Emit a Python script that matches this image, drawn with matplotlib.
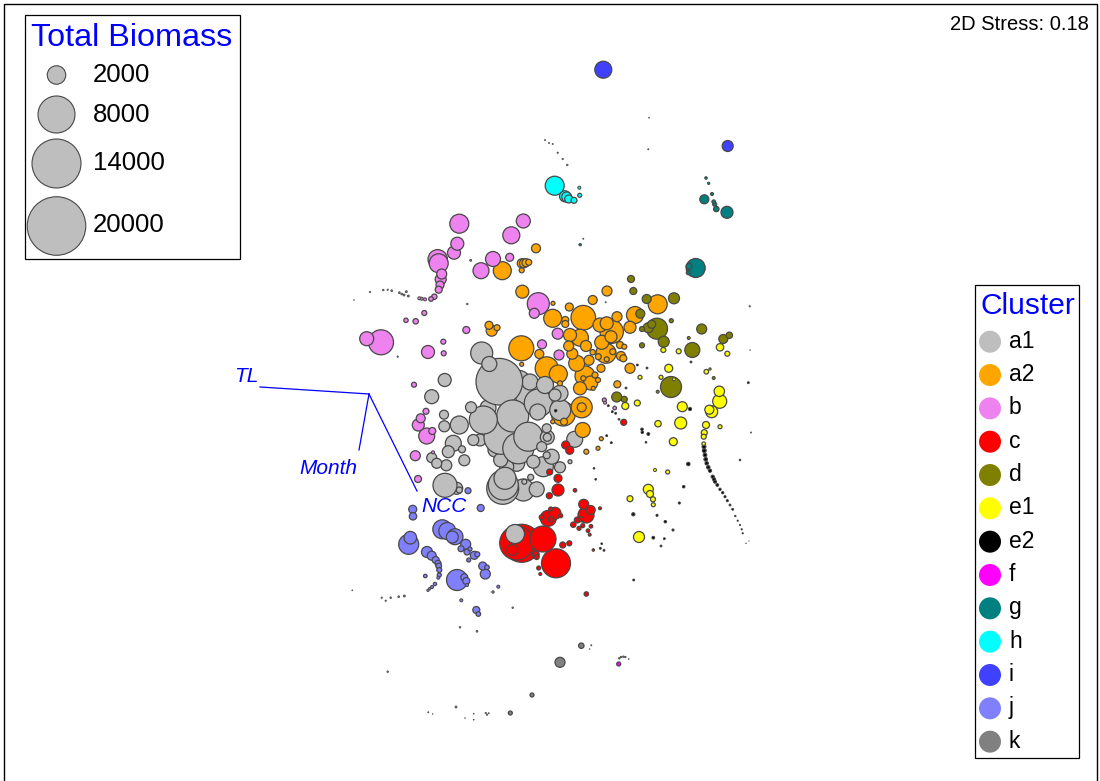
import matplotlib
matplotlib.use("Agg")
import matplotlib.pyplot as plt
from matplotlib.patches import Rectangle
import numpy as np

plt.rcParams['font.family'] = ['Liberation Sans', 'DejaVu Sans']

# points: (x, y, bubble radius), all in image pixels
a1 = [(499.3,381.7,23.3),(481.7,353,11),(489.3,364,7.5),(444.7,380,6.5),(431.7,396.7,7),(545,385,8.5),(555,395,6),
      (560,393.3,8),(538.3,403,14),(537.7,412,8),(560.3,410,10.5),(483.3,420,14),(471,407.3,5.5),(459.3,425,9),
      (444,414.7,4.5),(444.3,426.3,5.5),(473.3,440,5.5),(512.7,416,16),(501,437.3,17),(528.3,436.7,14.5),
      (518.3,448.3,15.5),(546.7,428.3,4.5),(547.3,437.3,7),(547.3,437.3,4),(541.7,446.7,5),(574.7,439.3,8),
      (453.3,443.3,8),(448.3,451.7,6),(462,449.3,3.5),(431.7,457.7,5),(436.7,463.3,5),(446.3,465.3,5.5),
      (464.3,460.3,5.5),(445,485.3,12),(502.7,488.3,16),(503.3,485,15),(505,478.3,11),(530.7,477.3,3),
      (524.3,481.7,2.5),(533.3,461.7,6.5),(543.3,466.7,10),(551.7,456.7,7.5),(560,467.3,5.5),(546.7,455.3,3.5),
      (570,461.7,2),(515,534,9.5)]
# grey bubbles that sit behind the big ones in the centre
a1_back = [(518.3,383.3,13),(525,395,10),(523.3,490,11),(530,382,8),(488,408,8),(516.7,463.3,8),(510,456.7,8),
           (536.7,489.3,7.5),(495,450,7),(506.7,466.7,7),(500.7,460,7),(480,440,6),(456.7,488.3,6),(459.3,490,3)]
a2 = [(522.3,291.7,6.5),(502.3,270.7,9),(536,248.3,4.5),(521.7,263.3,4.5),(524,263.3,4.5),(526,262.7,4),
      (528.7,262.3,3),(521.7,270.3,2.5),(489,325.3,4),(491.7,330.7,5.5),(497,327.7,3),(553,303.3,2),
      (552.7,318.3,9),(565.3,320,3.5),(565.3,324,3.5),(521.3,348.3,12.5),(521.7,364.3,2),(539.3,354,4.5),
      (546.7,368.3,11.5),(558.3,374,9),(560,383.3,2.5),(607,291,5),(592.7,300,4.5),(569.3,307,4),
      (583.3,317.7,12.3),(617,316.7,5),(635,315,8.5),(657.7,304.3,9.5),(630,327.3,6),(611.7,331.7,11.7),
      (606.7,323.3,6.5),(611,336.7,6),(600,325,7),(601.7,342.3,7),(570,335,6.5),(580,337.7,8.5),
      (568.7,346,5),(586,346,5.5),(572.3,353.7,5.5),(606,353.3,10),(606.7,359.3,2.5),(598.3,356.7,3),(592.7,352.3,2.7),
      (589,360.3,5),(576.7,363.3,8),(585,376,10),(590.7,383,7),(580,388.3,6.5),(595,375,3),(598,380,2.5),
      (593.3,388.3,2),(583.3,378.3,2.5),(601,368.3,4),(612.7,351.7,3),(620,345,3.5),(624.3,346.7,2.5),
      (621,356,4.5),(623.3,358.3,3.5),(630,368.3,5),(617.3,384.3,3.5),(581.7,407.3,10.5),(581.7,407.3,4.5),
      (582.7,430,7.5),(563.3,414,12),(564,421.7,3.5),(552.7,421.7,2),(586.3,451.7,2.5),(598,448.3,2),(601.3,438.7,2)]
b = [(459.3,223.7,9.5),(523.3,221,7),(511.3,235.3,8.5),(454,252.7,6.5),(457.3,243.7,6.5),(437.7,259.3,9.7),
     (438.7,263.3,9.5),(441.7,274,5),(440.7,279.3,5.5),(440,285,4),(438.7,289.7,3.5),(434.3,296.7,2.7),
     (431,299,2.3),(425,299.3,1.5),(421.7,298.7,1.5),(419.3,298.3,1.5),(481,270.7,8),(493,259,7.5),
     (509.7,257.3,4),(538.3,303.7,11),(534.3,313.3,5),(557.7,333.7,5.5),(542,344.3,4.5),(559,355,5),
     (381,342.3,12.5),(366.7,338.7,7),(428,352,6.5),(443.3,341.7,2.5),(443.7,353.3,2.5),(466.3,330,3.5),
     (424.3,313,2.5),(415.7,321.3,2.7),(406,320.3,2.2),(414,384.7,2.5),(420.7,418.3,4.5),(418.3,425,6),
     (426,411.3,3),(426.7,436,8),(432.3,431,3.5),(415.3,455.7,5),(418,479,3.5),(433,452.3,1.5),
     (604.3,400,2),(605,402.7,1.5),(614.7,408,1.8)]
c = [(521.7,543.3,19),(516.7,543,17),(512.3,550,5.5),(543,539,13),(556,563.3,14.5),(562.7,545,3),(569.3,543.3,2.5),
     (535.7,554.3,3.5),(536.7,557,2.5),(538.7,568,2),(540.3,574,1.5),(586.3,594,2.2),(548.3,518.3,8),(555,513.3,6),
     (541.7,517.3,2.5),(550.7,519.3,2.5),(560.7,515.7,2),(550.7,509,2),(583.7,504.3,5),(586,515,8),(590.7,510,4.5),
     (577.3,520,3),(581,519.3,2.5),(573.3,524.7,2.7),(582.7,525.7,2),(579,528.3,2),(591,526.3,1.8),(588,530.7,1.8),
     (589.7,534.7,1.5),(600,508.3,1.5),(558,490,6),(558,478.3,4),(549.7,472,3),(549.3,495.7,3),(565.7,445,4),
     (569.7,450.3,4),(575,490.3,1.8),(623.7,422.3,3),(593.3,550,1.3)]
d = [(631,279,3.5),(633.3,291,3.5),(646.7,299,4.5),(674,298.3,5.5),(640.3,313.7,4.5),(657,328.7,10.5),
     (651.7,324.3,4),(648.3,327.7,5),(642,329,2.5),(663.7,341.7,5.5),(671.3,320.7,2),(701.7,329,5),(642,345.3,2.5),
     (692.3,350,7.5),(688.7,338,1.5),(723.3,339,4.5),(729.3,335.3,3.2),(671,387,10.5),(616.7,397,5),(624.3,399.3,3),
     (657.7,391.7,1.5),(713.7,378,1.5),(710,369,1.2)]
e1 = [(663.3,350,2.5),(678.7,351.3,2.5),(720,347.3,3.7),(727.3,353.7,2.5),(668.7,368.3,4),(661,377.3,2),(640,377.3,2),
      (706.3,371.7,2.3),(674,379.3,1.5),(625.3,406,3.5),(637.3,403,3),(682.3,406.7,5),(680.7,423,6),(658,423.7,3.2),
      (673.3,441.7,4),(719.3,391.3,5.2),(719.7,401.3,7),(711.7,411.7,6),(709.3,409.7,4.5),(720,426.7,2),(706,425,3.5),
      (704.3,432.7,3),(703.7,436.7,2.5),(703.7,443.7,1.8),(648.3,489.3,5),(650,494,3.5),(653,499.3,2.5),
      (653.3,504.7,2),(630,498.7,3),(639,537,5.5),(655,470,1.5),(667.7,472,2)]
e2 = [(704,446.7,1.9),(704.3,450.7,1.9),(705,455,1.8),(705.7,459.3,1.8),(706.7,463.3,1.7),(708.3,467.3,1.7),(710,470.7,1.6),
      (712.7,476.7,1.6),(714,479.3,1.6),(715,481.7,1.5),(717.3,485,1.4),(720,489.3,1.2),(722.7,492.7,1.2),(725,496.7,1.1),
      (727.3,500.7,1.1),(730,505,1),(732.7,509.3,1),(735.3,516,0.8),(737.7,520.7,0.7),(740,525,0.7),(741.7,529.3,0.7),
      (742.7,533.3,0.7),(688.3,464,1.7),(683.7,486.7,1.3),(679.3,503,1.1),(633.3,514.3,1.6),
      (657,515.3,1.1),(665.3,521.7,1.3),(673,530,1.1),(653.3,537.7,1.4),(664.3,538.7,1),(661,546,1),(740,460,0.9),
      (642,429.3,1.3),(642.3,432.3,1.3),(648.3,434,1.4),(646,442.3,0.9),(611.3,442.7,1),(606.7,435.7,1),(690,409,1.6),
      (619,419.3,0.9),(608.3,405.7,1),(612.3,411.7,1),(615.7,413.3,1),(555.7,410.7,1.3),(594,468.3,0.9),(595.7,479.3,0.9),
      (637.3,365,1),(647,368,1),(626,388,1),(691,362,1),(748.3,382.7,1),(601.7,543.7,0.9),(604,550.3,1),(600.3,548.3,1),
      (633.7,580,1)]
f = [(618.7,664,2)]
g = [(695.7,268,9.5),(689,266.3,3),(688.3,272.7,2),(704.3,199.3,4.5),(727,212.3,6),(716.3,209,2.7),(714.7,204.3,2),
     (713.7,201.7,1.8),(712,194,1.5),(708.7,183.3,1.2),(706,178,1.3),(580.3,244.7,1.2)]
h = [(554.7,185.7,9.5),(565,196.3,5.5),(566.7,197,5),(568.7,199,4),(574,200.3,3),(579.3,187.7,1.5),(579.7,195.3,2)]
i = [(603.3,69.7,8.5),(727.7,146,5.5)]
j = [(408.7,544.3,10),(410.3,537.7,6.3),(412.7,509.3,4),(413,516.3,3.7),(480.7,508,3.5),(442.3,529.3,9.5),(447.3,531,8.5),
     (455,536.7,8),(452.3,537,6),(465.7,544.3,5),(461,548.7,3),(467,552,3),(470,549,2),(474.3,555.3,4),(477.3,554.3,2.5),
     (468.7,560,2),(482.7,566,4),(487,567.3,2.3),(485.3,574,5),(457,580,10.5),(464.3,577.3,3.5),(466.3,581,3.5),(467,585,1.5),
     (427,552,5.5),(431.7,555.7,4.5),(435.7,560,3.5),(438,563.3,3),(438.7,566,2.8),(439.3,570,2.5),(439.3,575,2),
     (438.3,577.7,1.5),(425.3,576,1.8),(435,584,1.7),(432,587,1.5),(429.7,588.7,1.2),(428,590.3,1.2),(498.3,586.7,1.5),
     (461.3,600.3,1.5),(476.3,610,3.5),(478.3,614,2.3),(468,490.7,3)]
k = [(560,662.3,5),(581.3,645.7,2.7),(532,695,2),(510.3,713,2),(456,707,1),(387.7,671.7,0.8),(352.3,590.3,0.5),(381.7,597.7,0.7),
     (385.7,600.7,0.7),(390.7,597.7,0.8),(398.7,596.7,0.9),(404.3,596,1),(460,627.3,0.8),(477,631.3,0.9),(512.7,607.7,0.8),
     (493,592,1.2),(428.3,712.3,0.6),(432.7,714,0.4),(465,718,0.4),(473.7,713.7,0.5),(473.7,719.7,0.5),(485.7,713,0.7),(487,714.7,0.7),
     (488.7,713.3,0.6),(591.3,645.3,0.6),(589.7,649,0.4),(619.3,658.3,0.8),(621,657,0.8),(623.3,656.7,0.8),(625.3,657,0.8),(628.7,659,0.5),
     (370,292,0.7),(383.3,290,0.8),(387.7,289.7,0.7),(391.7,290.7,0.9),(399.3,292.7,0.9),(401.7,294,0.9),(404,295,1),(406.3,291.7,1),
     (408.3,296,1),(354,300,0.4),(467.3,304,0.8),(470.7,260.3,1),(397.7,356.7,0.7),(579.3,244.7,0.6),(583.3,238.7,0.6),(605.7,302.3,0.6),
     (749.7,306.3,0.7),(750,350,0.4),(751,432.5,0.6),(746,543.3,0.4),(749,541,0.3),(545,140,0.6),(549,143,0.6),(552.7,144,0.6),
     (557.7,152.7,0.7),(562.7,159,0.7),(567.3,165,0.8),(649,117.7,0.5),(648.3,149.3,0.6)]

cluster_names = ["a1", "a2", "b", "c", "d", "e1", "e2", "f", "g", "h", "i", "j", "k"]
cluster_points = [a1, a2, b, c, d, e1, e2, f, g, h, i, j, k]
cluster_colors = ["#BEBEBE", "#FFA500", "#EE82EE", "#FF0000", "#808000", "#FFFF00", "#000000",
                  "#FF00FF", "#008080", "#00FFFF", "#4040FF", "#8080FF", "#808080"]

biomass_values = [2000, 8000, 14000, 20000]
biomass_y = [75, 114.5, 163.5, 226]
biomass_label_y = [75.5, 114.5, 163.5, 225.5]

vectors = {"TL": (260, 387), "Month": (359, 450), "NCC": (417, 491)}
vector_origin = (369, 394)
vector_labels = {"TL": (246, 376.5), "Month": (328, 469), "NCC": (444, 506.5)}

EDGE = "#484848"
PX = 72 / 100  # one pixel in points


def area(radius):
    return (2 * np.asarray(radius, dtype=float) * PX) ** 2


fig = plt.figure(figsize=(11, 7.81), dpi=100)
ax = fig.add_axes([0, 0, 1, 1])
ax.set_xlim(0, 1100)
ax.set_ylim(781, 0)
ax.axis("off")

# plot frame, its bottom edge runs off the image
ax.add_patch(Rectangle((4, 4), 1092.5, 800, fill=False, edgecolor="black", lw=1.0))

# hidden grey ones go first
back = np.array(a1_back)
ax.scatter(back[:, 0], back[:, 1], s=area(back[:, 2]), c=cluster_colors[0],
           edgecolors=EDGE, linewidths=0.9, zorder=2)

# all bubbles together, big ones at the back
xs, ys, rs, cols = [], [], [], []
for pts, col in zip(cluster_points, cluster_colors):
    for x, y, r in pts:
        xs.append(x)
        ys.append(y)
        rs.append(r)
        cols.append(col)
xs = np.array(xs)
ys = np.array(ys)
rs = np.array(rs)
order = np.argsort(-rs, kind="stable")
edge_w = np.minimum(0.9, 0.3 + rs * 0.3)
ax.scatter(xs[order], ys[order], s=area(rs[order]), c=[cols[n] for n in order],
           edgecolors=EDGE, linewidths=edge_w[order], zorder=3)

# vectors
for name, end in vectors.items():
    ax.plot([vector_origin[0], end[0]], [vector_origin[1], end[1]], color="#0000FF", lw=0.9, zorder=4)
    lx, ly = vector_labels[name]
    ax.text(lx, ly, name, color="#0000FF", style="italic", fontsize=15, ha="center", va="center", zorder=5)

ax.text(1089, 25, "2D Stress: 0.18", fontsize=14.5, ha="right", va="center", color="black")

# biomass legend
ax.add_patch(Rectangle((25, 15), 215, 244, facecolor="white", edgecolor="black", lw=0.9, zorder=6))
ax.text(131.5, 38, "Total Biomass", color="#0000FF", fontsize=23.3, ha="center", va="center", zorder=7)
biomass_r = 0.207 * np.sqrt(biomass_values)
ax.scatter([56.5] * 4, biomass_y, s=area(biomass_r), c="#BEBEBE", edgecolors=EDGE, linewidths=0.8, zorder=7)
for val, y in zip(biomass_values, biomass_label_y):
    ax.text(93, y, str(val), fontsize=18.5, ha="left", va="center", color="black", zorder=7)

# cluster legend
ax.add_patch(Rectangle((974.5, 285), 104.5, 473, facecolor="white", edgecolor="black", lw=0.9, zorder=6))
ax.text(1027.5, 306, "Cluster", color="#0000FF", fontsize=21.5, ha="center", va="center", zorder=7)
for n, (name, col) in enumerate(zip(cluster_names, cluster_colors)):
    y = 341.7 + n * 33.33
    ax.scatter([990], [y], s=area(11), c=col, edgecolors="none", zorder=7)
    ax.text(1009, y - 0.5, name, fontsize=16.5, ha="left", va="center", color="black", zorder=7)

fig.savefig("out.png", dpi=100)
